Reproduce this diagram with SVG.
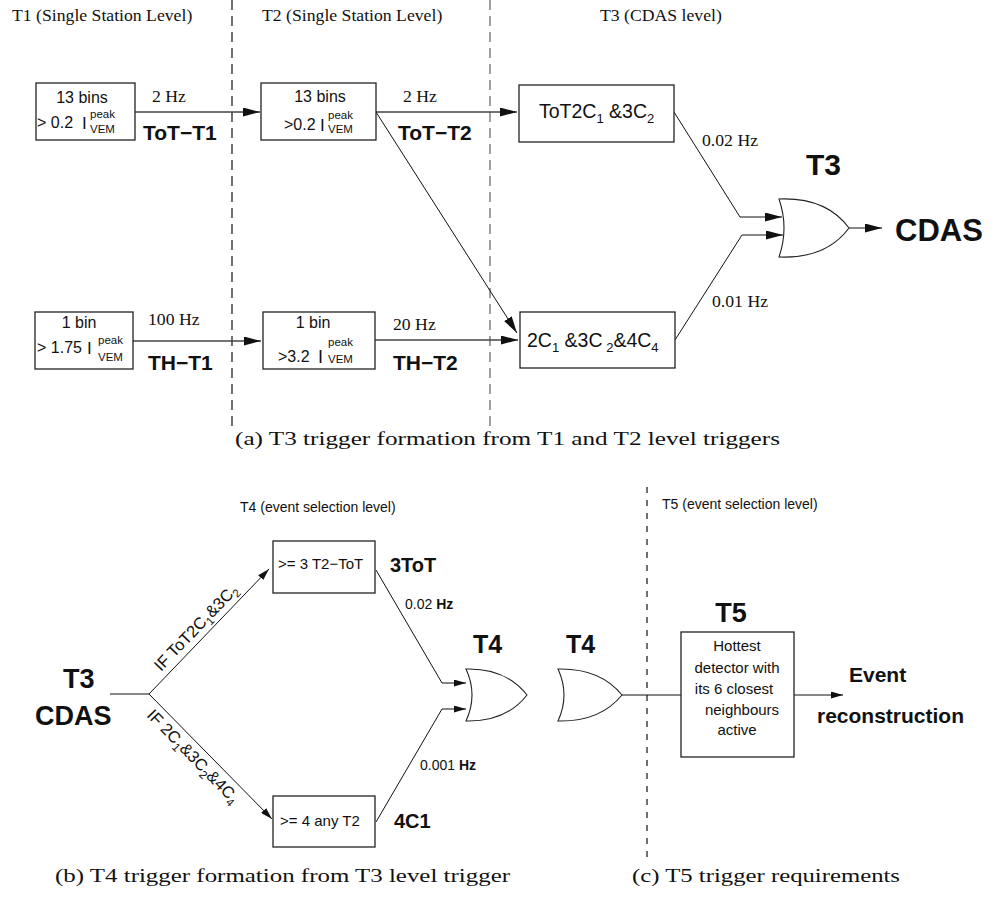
<svg xmlns="http://www.w3.org/2000/svg" width="992" height="914" viewBox="0 0 992 914">
<style>
.serif{font-family:"Liberation Serif","Times New Roman",serif;font-size:17.7px;fill:#111}
.cap{font-family:"Liberation Serif","Times New Roman",serif;font-size:18px;fill:#111}
.sans{font-family:"Liberation Sans",Arial,sans-serif;fill:#111}
.b{font-weight:bold}
.box{fill:#fff;stroke:#222;stroke-width:1.3}
.gate{fill:#fff;stroke:#222;stroke-width:1.1}
.h{fill:none;stroke:#444;stroke-width:1.6}
.d{fill:none;stroke:#111;stroke-width:1}
.dash1{stroke:#111;stroke-width:1.2;stroke-dasharray:10 6}
.dash2{stroke:#777;stroke-width:1.4;stroke-dasharray:10 6}
.dash3{stroke:#111;stroke-width:1.2;stroke-dasharray:6 7}
</style>
<defs>
<marker id="aL" viewBox="0 0 17 9" refX="17" refY="4.5" markerWidth="17" markerHeight="9" markerUnits="userSpaceOnUse" orient="auto"><path d="M0,0 L17,4.5 L0,9 Z" fill="#111"/></marker>
<marker id="aS" viewBox="0 0 12 7" refX="12" refY="3.5" markerWidth="12" markerHeight="7" markerUnits="userSpaceOnUse" orient="auto"><path d="M0,0 L12,3.5 L0,7 Z" fill="#111"/></marker>
</defs>
<rect width="992" height="914" fill="#fff"/>

<!-- level separators and headers -->
<g id="levels">
<line class="dash1" x1="232" y1="0" x2="232" y2="427"/>
<line class="dash2" x1="490" y1="0" x2="490" y2="427"/>
<line class="dash3" x1="647" y1="487" x2="647" y2="864"/>
<text class="serif" x="12" y="21">T1 (Single Station Level)</text>
<text class="serif" x="262" y="21">T2 (Single Station Level)</text>
<text class="serif" x="600" y="21">T3 (CDAS level)</text>
<text class="sans" x="240" y="512" font-size="14">T4 (event selection level)</text>
<text class="sans" x="662" y="509" font-size="14">T5 (event selection level)</text>
</g>

<g id="connectors">
<path class="h" d="M135,112 H260" marker-end="url(#aL)"/>
<path class="h" d="M376,112 H517" marker-end="url(#aL)"/>
<path class="d" d="M376,112 L517,333" marker-end="url(#aL)"/>
<path class="h" d="M133,341 H261" marker-end="url(#aL)"/>
<path class="h" d="M375,340 H518" marker-end="url(#aL)"/>
<path class="d" d="M674,112 L740,217 H782" marker-end="url(#aL)"/>
<path class="d" d="M675,340 L742,235 H783" marker-end="url(#aL)"/>
<path class="d" d="M849,228 H882" marker-end="url(#aL)"/>
<path class="d" d="M110,694 H149"/>
<path class="d" d="M149,694 L269,569" marker-end="url(#aS)"/>
<path class="d" d="M149,694 L272,819" marker-end="url(#aS)"/>
<path class="d" d="M376,570 L442,683 H466" marker-end="url(#aS)"/>
<path class="d" d="M376,822 L442,709 H466" marker-end="url(#aS)"/>
<path class="d" d="M622,695 H681"/>
<path class="d" d="M794,695 H843" marker-end="url(#aS)"/>
</g>

<g id="edge-labels">
<text class="serif" x="152" y="102">2 Hz</text>
<text class="serif" x="403" y="102">2 Hz</text>
<text class="serif" x="148" y="325">100 Hz</text>
<text class="serif" x="393" y="330">20 Hz</text>
<text class="serif" x="702" y="146">0.02 Hz</text>
<text class="serif" x="712" y="307">0.01 Hz</text>
<text class="sans b" x="143" y="140" font-size="21">ToT−T1</text>
<text class="sans b" x="398" y="140" font-size="21">ToT−T2</text>
<text class="sans b" x="148" y="370" font-size="21">TH−T1</text>
<text class="sans b" x="393" y="370" font-size="21">TH−T2</text>
<text class="sans" x="405" y="609" font-size="14">0.02 <tspan class="b">Hz</tspan></text>
<text class="sans" x="420" y="770" font-size="14">0.001 <tspan class="b">Hz</tspan></text>
<text class="sans" font-size="16.5" transform="translate(161,672) rotate(-46.2)">IF ToT2C<tspan dy="4" font-size="11.5">1</tspan><tspan dy="-4">&amp;3C</tspan><tspan dy="4" font-size="11.5">2</tspan></text>
<text class="sans" font-size="16.5" transform="translate(146,716) rotate(45.7)">IF 2C<tspan dy="4" font-size="11.5">1</tspan><tspan dy="-4">&amp;3C</tspan><tspan dy="4" font-size="11.5">2</tspan><tspan dy="-4">&amp;4C</tspan><tspan dy="4" font-size="11.5">4</tspan></text>
</g>

<g id="n-tot-t1">
<rect class="box" x="36" y="83" width="99" height="57"/>
<text class="sans" x="82" y="103" font-size="16" text-anchor="middle">13 bins</text>
<text class="sans" x="37" y="128" font-size="16">&gt; 0.2</text>
<text class="sans" x="82" y="129" font-size="17">I</text>
<text class="sans" x="90" y="118" font-size="11.5">peak</text>
<text class="sans" x="90" y="133" font-size="11.5">VEM</text>
</g>

<g id="n-tot-t2">
<rect class="box" x="261" y="83" width="115" height="57"/>
<text class="sans" x="320" y="102" font-size="16" text-anchor="middle">13 bins</text>
<text class="sans" x="284" y="130" font-size="16">&gt;0.2</text>
<text class="sans" x="320" y="131" font-size="17">I</text>
<text class="sans" x="328" y="119" font-size="11.5">peak</text>
<text class="sans" x="328" y="133" font-size="11.5">VEM</text>
</g>

<g id="n-th-t1">
<rect class="box" x="35" y="312" width="98" height="57"/>
<text class="sans" x="79" y="328" font-size="16" text-anchor="middle">1 bin</text>
<text class="sans" x="37" y="353" font-size="16">&gt; 1.75</text>
<text class="sans" x="87" y="354" font-size="17">I</text>
<text class="sans" x="98" y="344" font-size="11.5">peak</text>
<text class="sans" x="98" y="361" font-size="11.5">VEM</text>
</g>

<g id="n-th-t2">
<rect class="box" x="263" y="312" width="112" height="57"/>
<text class="sans" x="313" y="328" font-size="16" text-anchor="middle">1 bin</text>
<text class="sans" x="278" y="362" font-size="16">&gt;3.2</text>
<text class="sans" x="318" y="363" font-size="18">I</text>
<text class="sans" x="328" y="346" font-size="11.5">peak</text>
<text class="sans" x="328" y="363" font-size="11.5">VEM</text>
</g>

<g id="n-t3-tot">
<rect class="box" x="519" y="85" width="155" height="57"/>
<text class="sans" x="539" y="118" font-size="19.5">ToT2C<tspan dy="5" font-size="13">1</tspan><tspan dy="-5"> &amp;3C</tspan><tspan dy="5" font-size="13">2</tspan></text>
</g>

<g id="n-t3-multi">
<rect class="box" x="520" y="312" width="155" height="56"/>
<text class="sans" x="527" y="347" font-size="19.5">2C<tspan dy="5" font-size="13">1</tspan><tspan dy="-5"> &amp;3C</tspan><tspan dy="5" font-size="13"> 2</tspan><tspan dy="-5">&amp;4C</tspan><tspan dy="5" font-size="13">4</tspan></text>
</g>

<g id="n-t3-or">
<path class="gate" d="M779,199 Q826,197 849,228 Q826,259 779,257 Q789,228 779,199 Z"/>
<text class="sans b" x="806" y="175" font-size="30">T3</text>
</g>

<g id="n-cdas">
<text class="sans b" x="895" y="241" font-size="31">CDAS</text>
</g>

<g id="n-t3-cdas-in">
<text class="sans b" x="63" y="688" font-size="27">T3</text>
<text class="sans b" x="35" y="725" font-size="27">CDAS</text>
</g>

<g id="n-3tot">
<rect class="box" x="273" y="541" width="102" height="52"/>
<text class="sans" x="278" y="569" font-size="15">&gt;= 3 T2−ToT</text>
<text class="sans b" x="390" y="572" font-size="20">3ToT</text>
</g>

<g id="n-4c1">
<rect class="box" x="273" y="796" width="102" height="51"/>
<text class="sans" x="280" y="826" font-size="15">&gt;= 4 any T2</text>
<text class="sans b" x="394" y="828" font-size="20">4C1</text>
</g>

<g id="n-t4-or">
<path class="gate" d="M466,669 Q506,668 527,695 Q506,722 466,721 Q478,695 466,669 Z"/>
<text class="sans b" x="473" y="653" font-size="25">T4</text>
</g>

<g id="n-t4-or2">
<path class="gate" d="M558,669 Q600,668 622,695 Q600,722 558,721 Q570,695 558,669 Z"/>
<text class="sans b" x="566" y="653" font-size="25">T4</text>
</g>

<g id="n-t5">
<rect class="box" x="681" y="632" width="113" height="125"/>
<text class="sans b" x="731" y="622" font-size="27" text-anchor="middle">T5</text>
<g class="sans" font-size="15" text-anchor="middle">
<text x="737" y="651">Hottest</text>
<text x="737" y="673">detector with</text>
<text x="734" y="694">its 6 closest</text>
<text x="742" y="715">neighbours</text>
<text x="737" y="735">active</text>
</g>
</g>

<g id="n-event">
<text class="sans b" x="849" y="682" font-size="21">Event</text>
<text class="sans b" x="817" y="723" font-size="21">reconstruction</text>
</g>

<g id="captions">
<text class="cap" x="235" y="445" textLength="545" lengthAdjust="spacingAndGlyphs">(a)  T3 trigger formation from T1 and T2 level triggers</text>
<text class="cap" x="55" y="882" textLength="455" lengthAdjust="spacingAndGlyphs">(b)  T4 trigger formation from T3 level trigger</text>
<text class="cap" x="632" y="882" textLength="268" lengthAdjust="spacingAndGlyphs">(c)  T5 trigger requirements</text>
</g>
</svg>
